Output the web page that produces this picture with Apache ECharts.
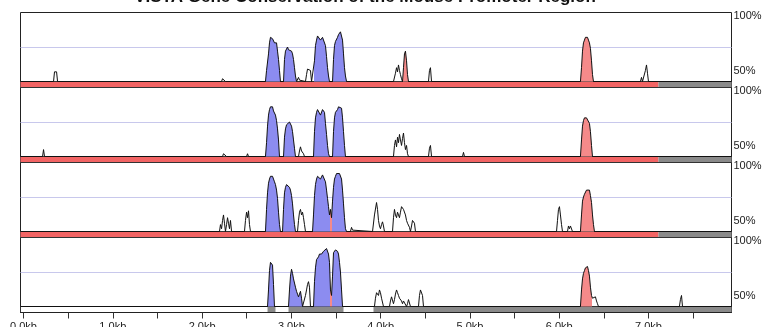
<!DOCTYPE html>
<html><head><meta charset="utf-8">
<script src="https://cdn.jsdelivr.net/npm/echarts@6/dist/echarts.min.js"></script>
<style>html,body{margin:0;padding:0;background:#fff}#c{width:765px;height:327px}</style>
</head><body><div id="c"></div>
<script>
// ---------- data ----------
const titleText = 'VISTA Gene Conservation of the Mouse Promoter Region';
const xMin = -34, xMax = 7930;           // bp
const tickValues = [0,500,1000,1500,2000,2500,3000,3500,4000,4500,5000,5500,6000,6500,7000,7500];
const labelValues = [0,1000,2000,3000,4000,5000,6000,7000];
const tickLabels = ['0.0kb','1.0kb','2.0kb','3.0kb','4.0kb','5.0kb','6.0kb','7.0kb'];

// conservation (% identity) per position [bp, %]
const panel1 = [[-34,50],[336,50],[347,57],[358,58],[370,57],[381,50],
[2218,50],[2229,52],[2251,52],[2262,50],[2509,50],[2520,51],[2531,50],
[2710,50],[2722,58],[2744,70],[2755,78],[2766,82],[2778,83],[2789,81],[2800,82],[2811,78],[2822,78],[2834,78],[2845,72],[2856,66],[2867,58],[2878,50],
[2912,50],[2923,66],[2934,72],[2946,73],[2957,75],[2968,73],[2979,74],[2990,74],[3002,72],[3013,70],[3024,66],[3035,60],[3046,54],[3058,50],[3069,51],[3080,53],[3091,51],[3102,50],
[3158,50],[3170,55],[3181,59],[3192,60],[3203,60],[3214,58],[3226,50],
[3248,50],[3259,65],[3270,76],[3282,80],[3293,83],[3304,84],[3315,82],[3326,80],[3338,80],[3349,82],[3360,83],[3371,82],[3382,76],[3394,68],[3405,60],[3416,54],[3427,50],
[3461,50],[3472,66],[3483,76],[3494,79],[3506,80],[3517,82],[3528,84],[3539,85],[3550,86],[3562,86],[3573,80],[3584,70],[3595,60],[3606,54],[3618,50],
[4144,50],[4166,56],[4178,60],[4189,57],[4200,62],[4211,58],[4222,55],[4234,52],[4245,50],[4256,60],[4267,70],[4278,72],[4290,65],[4301,55],[4312,50],
[4536,50],[4547,58],[4558,60],[4570,50],
[6238,50],[6250,60],[6261,72],[6272,78],[6283,80],[6294,82],[6306,81],[6317,82],[6328,80],[6339,78],[6350,74],[6362,65],[6373,55],[6384,50],
[6910,50],[6922,53],[6933,50],[6955,50],[6966,58],[6978,62],[6989,56],[7000,50],[7930,50]];

const panel2 = [[-34,50],[213,50],[224,55],[235,50],
[2229,50],[2240,52],[2262,52],[2274,50],[2498,50],[2509,52],[2520,50],
[2710,50],[2722,60],[2733,72],[2744,80],[2755,84],[2766,86],[2778,85],[2789,86],[2800,83],[2811,82],[2822,80],[2834,76],[2845,70],[2856,62],[2867,50],
[2912,50],[2923,64],[2934,70],[2946,73],[2957,74],[2968,73],[2979,75],[2990,74],[3002,72],[3013,68],[3024,62],[3035,56],[3046,50],
[3080,50],[3091,54],[3102,57],[3114,54],[3125,55],[3136,52],[3147,50],
[3248,50],[3259,68],[3270,78],[3282,82],[3293,84],[3304,85],[3315,83],[3326,80],[3338,81],[3349,84],[3360,85],[3371,82],[3382,74],[3394,66],[3405,58],[3416,52],[3427,50],
[3461,50],[3472,68],[3483,78],[3494,82],[3506,82],[3517,84],[3528,86],[3539,87],[3550,87],[3562,85],[3573,78],[3584,68],[3595,58],[3606,50],
[4144,50],[4155,58],[4166,62],[4178,57],[4189,64],[4200,60],[4211,66],[4222,62],[4234,58],[4245,63],[4256,67],[4267,60],[4278,55],[4290,58],[4301,52],[4312,50],
[4536,50],[4547,56],[4558,58],[4570,50],[4917,50],[4928,53],[4939,50],
[6238,50],[6250,62],[6261,72],[6272,76],[6283,78],[6294,79],[6306,78],[6317,79],[6328,77],[6339,74],[6350,68],[6362,58],[6373,50],[7930,50]];

const panel3 = [[-34,50],
[2195,50],[2206,55],[2218,52],[2229,58],[2240,62],[2251,56],[2262,50],[2274,55],[2285,60],[2296,56],[2307,52],[2318,58],[2330,50],
[2475,50],[2486,58],[2498,64],[2509,60],[2520,65],[2531,55],[2542,50],
[2710,50],[2722,66],[2733,78],[2744,85],[2755,88],[2766,90],[2778,89],[2789,90],[2800,88],[2811,86],[2822,84],[2834,80],[2845,74],[2856,64],[2867,55],[2878,50],
[2901,50],[2912,66],[2923,78],[2934,82],[2946,84],[2957,83],[2968,84],[2979,82],[2990,80],[3002,76],[3013,70],[3024,62],[3035,55],[3046,50],
[3069,50],[3080,58],[3091,64],[3102,66],[3114,62],[3125,64],[3136,60],[3147,55],[3158,50],
[3237,50],[3248,62],[3259,76],[3270,84],[3282,88],[3293,90],[3304,91],[3315,90],[3326,88],[3338,89],[3349,91],[3360,92],[3371,90],[3382,86],[3394,80],[3405,74],[3416,68],[3427,62],[3438,66],[3450,60],
[3461,72],[3472,82],[3483,88],[3494,90],[3506,92],[3517,93],[3528,93],[3539,92],[3550,91],[3562,88],[3573,80],[3584,70],[3595,60],[3606,52],[3618,50],
[3662,50],[3674,53],[3685,51],[3696,50],
[3909,50],[3931,62],[3954,71],[3965,66],[3976,58],[3987,54],[3998,52],[4010,55],[4021,57],[4032,54],[4043,50],
[4133,50],[4144,60],[4155,66],[4166,62],[4178,60],[4189,64],[4200,62],[4211,60],[4222,64],[4234,68],[4245,69],[4256,66],[4267,67],[4278,62],[4290,58],[4301,56],[4312,55],[4323,53],[4334,50],[4346,54],[4357,58],[4368,59],[4379,56],[4390,50],
[5970,50],[5981,58],[5992,66],[6003,68],[6014,62],[6026,55],[6037,50],
[6093,50],[6104,54],[6115,52],[6126,54],[6138,53],[6149,50],
[6238,50],[6250,62],[6261,72],[6272,75],[6283,77],[6294,78],[6306,80],[6317,81],[6328,79],[6339,80],[6350,76],[6362,71],[6373,62],[6384,55],[6395,50],[7930,50]];

const panel4 = [[-34,50],
[2733,50],[2744,62],[2755,76],[2766,82],[2778,83],[2789,80],[2800,66],[2811,50],
[2968,50],[2979,62],[2990,72],[3002,77],[3013,74],[3024,70],[3035,67],[3046,64],[3058,61],[3069,59],[3080,57],[3091,59],[3102,61],[3114,56],[3125,50],
[3147,50],[3158,58],[3170,62],[3181,66],[3192,68],[3203,64],[3214,50],
[3248,50],[3259,68],[3270,78],[3282,84],[3293,85],[3304,86],[3315,88],[3326,89],[3338,88],[3349,89],[3360,90],[3371,90],[3382,91],[3394,92],[3405,93],[3416,88],[3427,82],[3438,62],[3450,58],
[3461,72],[3472,89],[3483,90],[3494,91],[3506,91],[3517,90],[3528,88],[3539,82],[3550,75],[3562,62],[3573,50],
[3931,50],[3942,56],[3954,60],[3965,61],[3976,58],[3987,62],[3998,60],[4010,56],[4021,57],[4032,50],
[4099,50],[4110,54],[4122,57],[4133,56],[4144,52],[4155,55],[4166,59],[4178,62],[4189,60],[4200,58],[4211,56],[4222,57],[4234,54],[4245,52],[4256,54],[4267,55],[4278,53],[4290,50],[4301,52],[4312,55],[4323,54],[4334,50],
[4424,50],[4435,58],[4446,62],[4458,61],[4469,58],[4480,50],
[6238,50],[6250,62],[6261,70],[6272,74],[6283,76],[6294,78],[6306,77],[6317,79],[6328,76],[6339,72],[6350,64],[6362,58],[6373,56],[6384,57],[6395,55],[6406,57],[6418,54],[6429,52],[6440,50],
[6765,50],[6776,51],[6787,50],[7347,50],[7358,55],[7370,58],[7381,50],[7930,50]];

// conserved regions [start, end] bp
const blue1 = [[2710,2878],[2912,3058],[3248,3427],[3461,3618]];
const pink1 = [[4245,4312],[6238,6384]];
const blue2 = [[2710,2867],[2912,3046],[3248,3427],[3461,3606]];
const pink2 = [[6238,6373]];
const blue3 = [[2710,2878],[2901,3046],[3237,3432],[3450,3618]];
const pink3 = [[3432,3450],[6238,6395]];
const blue4 = [[2733,2811],[2968,3125],[3248,3432],[3450,3573]];
const pink4 = [[3432,3450],[6238,6368]];

// annotation bars [start, end, kind] kind 0 = red, 1 = gray
const annot1 = [[-34,7112,0],[7112,7930,1]];
const annot2 = [[-34,7112,0],[7112,7930,1]];
const annot3 = [[-34,7112,0],[7112,7930,1]];
const annot4 = [[2733,2822,1],[2968,3584,1],[3920,7930,1]];

// ---------- build ----------
const BLUE = '#8c8cf0', PINK = '#f58a8a', RED = '#f26464', GRAY = '#8a8a8a';
const panels = [panel1, panel2, panel3, panel4];
const blues = [blue1, blue2, blue3, blue4];
const pinks = [pink1, pink2, pink3, pink4];
const annots = [annot1, annot2, annot3, annot4];
const tops = [12.5, 87.5, 162.5, 237.5];
const H = 69, AH = 6, L = 20.5, W = 711;
const FONT = 'Liberation Sans, Arial, sans-serif';

const grid = [], xAxis = [], yAxis = [], series = [], visualMap = [];
panels.forEach((p, i) => {
  grid.push({left: L, width: W, top: tops[i], height: H, show: true, borderColor: '#222', borderWidth: 1,
    containLabel: false, outerBoundsMode: 'none'});
  xAxis.push({type: 'value', gridIndex: i, min: xMin, max: xMax, show: false});
  yAxis.push({type: 'value', gridIndex: i, min: 50, max: 100, interval: 25, position: 'right',
    axisLine: {show: false}, axisTick: {show: false},
    splitLine: {show: true, showMinLine: false, showMaxLine: false, lineStyle: {color: '#c8c8ec', width: 1}},
    axisLabel: {margin: 2, color: '#222', fontFamily: FONT, fontSize: 11,
      formatter: v => v === 100 ? '{t|100%}' : (v === 50 ? '{b|50%}' : ''),
      rich: {t: {padding: [6, 0, 0, 0], fontSize: 11, fontFamily: FONT, color: '#222'},
             b: {padding: [0, 0, 21, 0], fontSize: 11, fontFamily: FONT, color: '#222'}}}});
  series.push({type: 'line', xAxisIndex: i, yAxisIndex: i, data: p, showSymbol: false, symbol: 'none',
    lineStyle: {color: '#111', width: 1}, areaStyle: {opacity: 1}, animation: false, silent: true, z: 3});
  const pieces = blues[i].map(r => ({gte: r[0], lt: r[1], color: BLUE}))
    .concat(pinks[i].map(r => ({gte: r[0], lt: r[1], color: PINK})))
    .sort((a, b) => a.gte - b.gte);
  visualMap.push({type: 'piecewise', show: false, seriesIndex: i, dimension: 0, pieces,
    outOfRange: {color: 'rgba(255,255,255,0)'}});
});
annots.forEach((a, i) => {
  const gi = 4 + i;
  grid.push({left: L, width: W, top: tops[i] + H, height: AH, show: true, borderColor: '#333', borderWidth: 1,
    containLabel: false, outerBoundsMode: 'none'});
  const last = i === 3;
  xAxis.push({type: 'value', gridIndex: gi, min: xMin, max: xMax, show: last,
    axisLine: {show: true, lineStyle: {color: '#222', width: 1}},
    axisTick: {show: true, customValues: tickValues, length: 6, lineStyle: {color: '#333'}},
    splitLine: {show: false},
    axisLabel: {customValues: labelValues, margin: 9, fontSize: 11, fontFamily: FONT, color: '#222',
      hideOverlap: false, formatter: v => tickLabels[labelValues.indexOf(v)]}});
  yAxis.push({type: 'value', gridIndex: gi, min: 0, max: 1, show: false});
  series.push({type: 'custom', xAxisIndex: gi, yAxisIndex: gi, data: a, animation: false, silent: true,
    clip: true,
    renderItem: (params, api) => {
      const p0 = api.coord([api.value(0), 1]);
      const p1 = api.coord([api.value(1), 0]);
      return {type: 'rect', shape: {x: p0[0], y: p0[1] + 0.5, width: p1[0] - p0[0], height: p1[1] - p0[1] - 1},
        style: {fill: api.value(2) === 0 ? RED : GRAY}};
    }});
});

const chart = echarts.init(document.getElementById('c'), null, {renderer: 'canvas'});
chart.setOption({
  backgroundColor: '#fff',
  animation: false,
  title: {text: titleText, left: 360, textAlign: 'center', top: -16,
    textStyle: {fontSize: 17, fontWeight: 'bold', fontFamily: FONT, color: '#111'}},
  grid, xAxis, yAxis, series, visualMap
});
</script></body></html>
